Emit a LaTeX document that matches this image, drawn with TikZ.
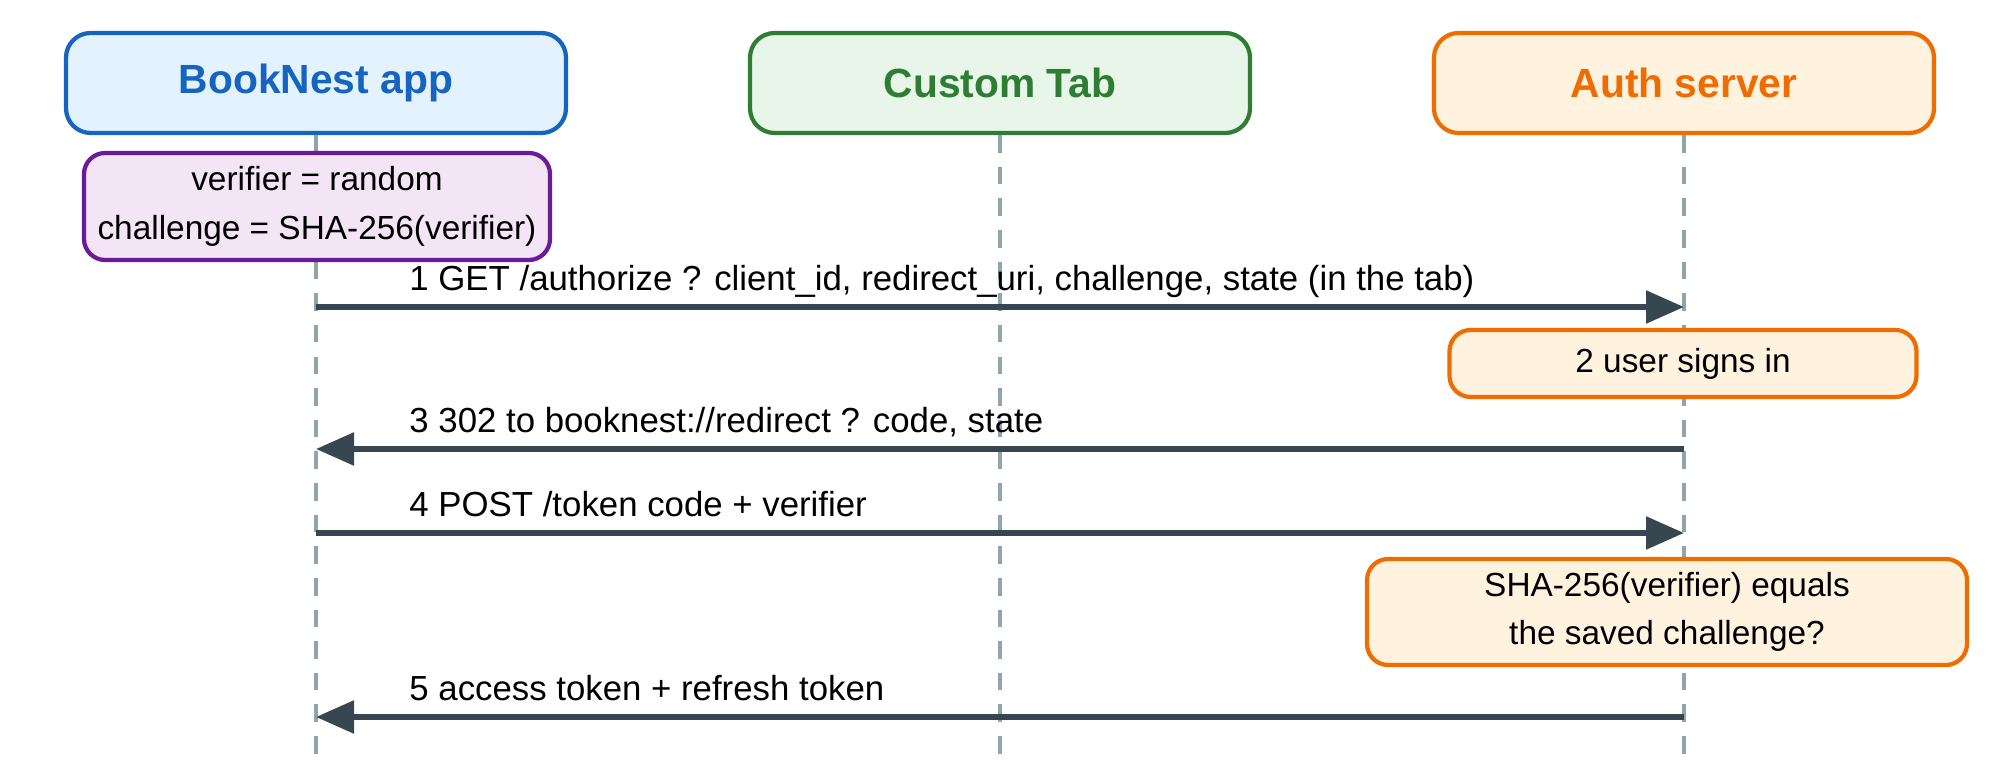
\documentclass[tikz,border=0pt]{standalone}
\usepackage{fontspec}
\setmainfont{Liberation Sans}
\usetikzlibrary{arrows.meta}
\definecolor{appblue}{HTML}{1565C0}\definecolor{appfill}{HTML}{E3F2FD}
\definecolor{tabgreen}{HTML}{2E7D32}\definecolor{tabfill}{HTML}{E8F5E9}
\definecolor{authorange}{HTML}{EF6C00}\definecolor{authfill}{HTML}{FFF3E0}
\definecolor{notepurple}{HTML}{6A1B9A}\definecolor{notefill}{HTML}{F3E5F5}
\definecolor{msgdark}{HTML}{37474F}\definecolor{lifegray}{HTML}{90A4AE}
\tikzset{
  actor/.style={draw=#1,fill=#1!12,line width=1.2pt,rounded corners=7pt,minimum width=5cm,minimum height=1cm,font=\fontsize{11.6}{14}\selectfont\bfseries,text=#1},
  note/.style={line width=1.2pt,rounded corners=6pt,align=center,font=\fontsize{9.5}{13.8}\selectfont},
  life/.style={lifegray,line width=1pt,dash pattern=on 5pt off 4pt},
  msg/.style={msgdark,line width=1.6pt,-{Triangle[length=3.8mm,width=3.2mm]}},
  lbl/.style={font=\fontsize{9.9}{12}\selectfont,anchor=base west}
}
\begin{document}
\begin{tikzpicture}
\useasboundingbox (0,0) rectangle (20,-7.83);
% participants
  \node[actor=appblue,fill=appfill] (app) at (3.16,-0.83) {BookNest app};
  \node[actor=tabgreen,fill=tabfill] (tab) at (10.00,-0.83) {Custom Tab};
  \node[actor=authorange,fill=authfill] (auth) at (16.84,-0.83) {Auth server};
% lifelines
  \draw[life] (app.south) -- (3.16,-7.65);
  \draw[life] (tab.south) -- (10.00,-7.65);
  \draw[life] (auth.south) -- (16.84,-7.65);
% notes
  \node[note,draw=notepurple,fill=notefill,minimum width=4.66cm,minimum height=1.07cm] (pkce) at (3.17,-2.065) {verifier = random\\challenge = SHA-256(verifier)};
  \node[note,draw=authorange,fill=authfill,minimum width=4.67cm,minimum height=0.67cm] (signin) at (16.83,-3.635) {2 user signs in};
  \node[note,draw=authorange,fill=authfill,minimum width=6.0cm,minimum height=1.06cm] (check) at (16.67,-6.12) {SHA-256(verifier) equals\\the saved challenge?};
% message ends
  \coordinate (a1) at (3.16,-3.07);  \coordinate (s1) at (16.84,-3.07);
  \coordinate (a3) at (3.16,-4.49);  \coordinate (s3) at (16.84,-4.49);
  \coordinate (a4) at (3.16,-5.33);  \coordinate (s4) at (16.84,-5.33);
  \coordinate (a5) at (3.16,-7.17);  \coordinate (s5) at (16.84,-7.17);
% messages
  \draw[msg] (a1) -- (s1);
  \node[lbl] (m1) at (3.97,-2.91) {1 GET /authorize ? client\_id, redirect\_uri, challenge, state (in the tab)};
  \draw[msg] (s3) -- (a3);
  \node[lbl] (m3) at (3.97,-4.33) {3 302 to booknest://redirect ? code, state};
  \draw[msg] (a4) -- (s4);
  \node[lbl] (m4) at (3.97,-5.17) {4 POST /token code + verifier};
  \draw[msg] (s5) -- (a5);
  \node[lbl] (m5) at (3.97,-7.01) {5 access token + refresh token};
\end{tikzpicture}
\end{document}
